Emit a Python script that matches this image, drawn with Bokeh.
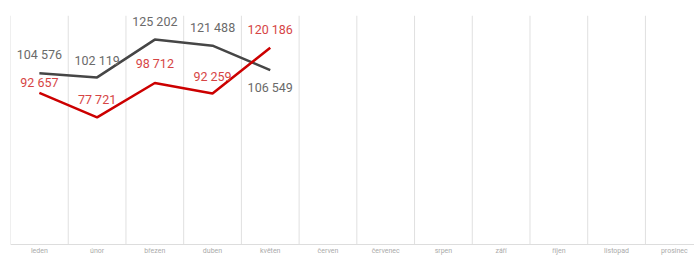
from bokeh.plotting import figure
from bokeh.models import Range1d, ColumnDataSource
from bokeh.core.properties import value
from bokeh.embed import file_html
from bokeh.resources import INLINE

months = ["leden", "únor", "březen", "duben", "květen", "červen",
          "červenec", "srpen", "září", "říjen", "listopad", "prosinec"]
series_dark = [104576, 102119, 125202, 121488, 106549]
series_red = [92657, 77721, 98712, 92259, 120186]

# label placement (screen px, negative = above point)
dark_dy = [-19, -17, -18, -18, 17]
red_dy = [-10, -18, -19, -17, -18]

Y_TOP = 139930
X_END = 11.85


def fmt(v):
    return f"{v:,}".replace(",", " ")


p = figure(width=694, height=255, output_backend="svg", toolbar_location=None,
           x_range=Range1d(0, X_END), y_range=Range1d(-6720, Y_TOP),
           min_border_left=10, min_border_right=0, min_border_top=15, min_border_bottom=0)
p.outline_line_color = None
p.background_fill_color = "white"
p.border_fill_color = "white"
p.axis.visible = False
p.grid.grid_line_color = None

n = len(months)
bounds = list(range(n + 1))
centers = [i + 0.5 for i in range(n)]

# vertical separators between categories
p.segment(x0=bounds, y0=[0] * len(bounds), x1=bounds, y1=[Y_TOP] * len(bounds),
          line_color="#e0e0e0", line_width=1)
# baseline
p.segment(x0=[0], y0=[0], x1=[X_END], y1=[0], line_color="#dddddd", line_width=1.2)

# category labels
p.text(x=centers, y=[0] * n, text=months, y_offset=2, text_align="center",
       text_baseline="top", text_font=value("Roboto"), text_font_size="7px",
       text_color="#aaaaaa")

xs = centers[:len(series_dark)]
src_d = ColumnDataSource(dict(x=xs, y=series_dark, t=[fmt(v) for v in series_dark], dy=dark_dy))
src_r = ColumnDataSource(dict(x=xs, y=series_red, t=[fmt(v) for v in series_red], dy=red_dy))

p.line("x", "y", source=src_d, line_color="#464646", line_width=2.5)
p.line("x", "y", source=src_r, line_color="#cc0000", line_width=2.5)

p.text("x", "y", text="t", source=src_d, y_offset="dy", text_align="center",
       text_baseline="middle", text_font=value("Roboto"), text_font_size="12.5px",
       text_color="#6a6a6a")
p.text("x", "y", text="t", source=src_r, y_offset="dy", text_align="center",
       text_baseline="middle", text_font=value("Roboto"), text_font_size="12.5px",
       text_color="#d64545")

open("out.html", "w").write(file_html(p, INLINE))
